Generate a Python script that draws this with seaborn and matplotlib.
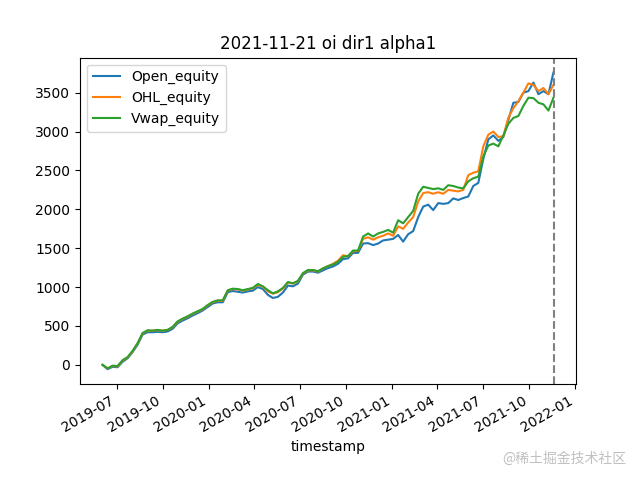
import matplotlib
matplotlib.use("Agg")
import matplotlib.pyplot as plt
import matplotlib.dates as mdates
import pandas as pd
import numpy as np
import seaborn as sns

# x-axis: one sample every 10 days from 2019-06-03 to 2021-11-20
dates = pd.date_range("2019-06-03", periods=91, freq="10D")
cutoff_date = pd.Timestamp("2021-11-21")

open_equity = [
    0, -55, -25, -30, 40, 85, 165, 260, 390, 420, 420, 425, 420, 430, 465, 535, 570, 600, 635, 665,
    700, 745, 790, 805, 805, 935, 950, 940, 930, 945, 955, 1000, 975, 900, 860, 875, 930, 1020, 1010, 1045,
    1160, 1200, 1200, 1185, 1215, 1245, 1265, 1300, 1360, 1370, 1440, 1440, 1560, 1565, 1540, 1560, 1600, 1610, 1620, 1670,
    1585, 1680, 1720, 1900, 2035, 2060, 1990, 2080, 2070, 2080, 2140, 2120, 2145, 2165,
    2300, 2340, 2650, 2900, 2950, 2880, 2930, 3150, 3370, 3380, 3500, 3520, 3630, 3480, 3520, 3480, 3760,
]
ohl_equity = [
    0, -45, -15, -20, 55, 95, 175, 275, 405, 440, 440, 445, 440, 450, 485, 555, 590, 620, 655, 685,
    715, 765, 805, 825, 825, 955, 975, 970, 955, 970, 985, 1030, 1005, 945, 915, 935, 980, 1060, 1045, 1075,
    1175, 1215, 1215, 1200, 1240, 1270, 1300, 1340, 1410, 1395, 1460, 1465, 1620, 1640, 1610, 1640, 1660, 1690, 1660, 1780,
    1750, 1830, 1900, 2100, 2210, 2220, 2200, 2220, 2200, 2250, 2240, 2230, 2250, 2440,
    2470, 2490, 2810, 2960, 3000, 2930, 2940, 3180, 3300, 3390, 3500, 3620, 3600, 3520, 3560, 3480, 3600,
]
vwap_equity = [
    0, -45, -10, -15, 60, 100, 180, 280, 410, 445, 440, 450, 440, 450, 490, 560, 595, 625, 660, 690,
    720, 770, 810, 830, 830, 960, 980, 975, 960, 975, 990, 1040, 1010, 960, 920, 945, 990, 1065, 1050, 1080,
    1180, 1220, 1220, 1205, 1240, 1270, 1290, 1325, 1390, 1400, 1470, 1470, 1650, 1690, 1650, 1690, 1710, 1735, 1700, 1860,
    1820, 1900, 1980, 2200, 2290, 2275, 2260, 2270, 2250, 2310, 2300, 2280, 2270, 2360,
    2400, 2420, 2680, 2820, 2845, 2810, 2950, 3100, 3175, 3200, 3330, 3435, 3430, 3370, 3350, 3270, 3435,
]

series_names = ["Open_equity", "OHL_equity", "Vwap_equity"]
series_values = [open_equity, ohl_equity, vwap_equity]
colors = ["#1f77b4", "#ff7f0e", "#2ca02c"]

fig, ax = plt.subplots(figsize=(6.4, 4.8), dpi=100)
for name, vals, c in zip(series_names, series_values, colors):
    sns.lineplot(x=dates, y=vals, ax=ax, label=name, color=c, linewidth=1.5)

ax.axvline(cutoff_date, color="gray", linestyle="--", linewidth=1.5)

ax.xaxis.set_major_locator(mdates.MonthLocator(bymonth=[1, 4, 7, 10]))
ax.xaxis.set_major_formatter(mdates.DateFormatter("%Y-%m"))
ax.set_yticks(np.arange(0, 3501, 500))
ax.set_xlabel("timestamp")
ax.set_ylabel("")
ax.set_title("2021-11-21 oi dir1 alpha1")
ax.legend(loc="upper left")
fig.autofmt_xdate()

fig.text(0.978, 0.045, "@稀土掘金技术社区", ha="right", va="center", fontsize=10,
         color="#c0c0c0", family=["Noto Sans CJK SC", "DejaVu Sans"])

fig.savefig("out.png", dpi=100)
